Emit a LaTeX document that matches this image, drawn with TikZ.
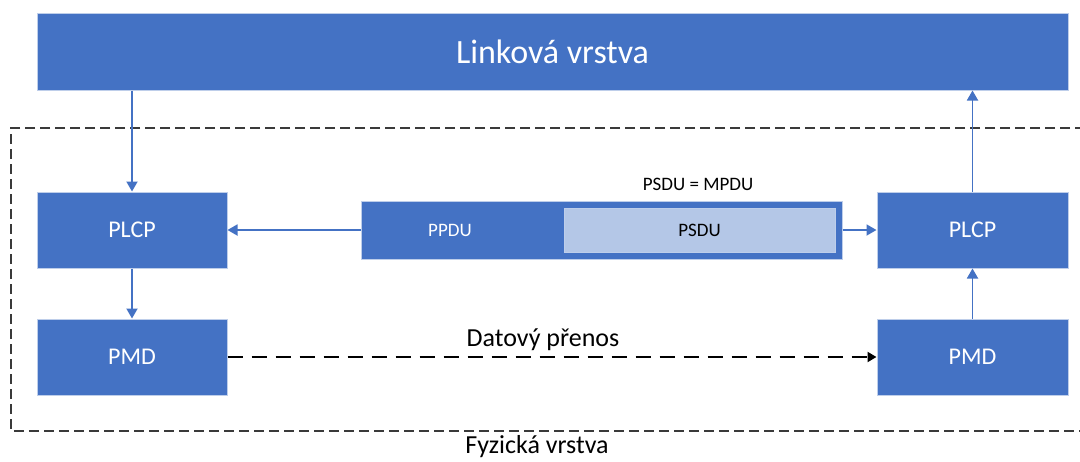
\documentclass[tikz,border=0pt]{standalone}
\usepackage{fontspec}
\setmainfont{Carlito}
\usetikzlibrary{arrows.meta,calc}
\definecolor{boxblue}{HTML}{4472C4}
\definecolor{lightblue}{HTML}{B4C7E7}
\definecolor{dashgray}{HTML}{3A3A3A}
\tikzset{
  bluebox/.style={draw=white!65!boxblue, line width=1pt, fill=boxblue, text=white, inner sep=0pt},
  innerbox/.style={draw=white!65!boxblue, line width=1pt, fill=lightblue, text=black, inner sep=0pt},
  arr/.style={draw=boxblue, line width=1.8pt, -{Triangle[width=11pt,length=10pt]}},
  datarr/.style={draw=black, line width=2pt, dash pattern=on 15pt off 9pt, -{Triangle[width=10pt,length=9pt]}},
  border/.style={draw=dashgray, line width=1.6pt, dash pattern=on 10pt off 5pt},
  lbl/.style={inner sep=0pt, anchor=base}
}
\begin{document}
\begin{tikzpicture}[x=1pt,y=-1pt]
\clip (0,0) rectangle (1080,461);
\fill[white] (0,0) rectangle (1080,461);
% dashed frame of the physical layer
\draw[border] (1100,128) -- (11,128) -- (11,431) -- (1100,431);
% boxes
\node[bluebox, minimum width=1031pt, minimum height=77pt, font=\fontsize{34}{40}\selectfont] (link) at (552.5,51.5) {Linková vrstva};
\node[bluebox, minimum width=190pt, minimum height=76pt, font=\fontsize{24}{28}\selectfont] (plcpL) at (132,230) {PLCP};
\node[bluebox, minimum width=190pt, minimum height=76pt, font=\fontsize{24}{28}\selectfont] (pmdL) at (132,357) {PMD};
\node[bluebox, minimum width=191pt, minimum height=76pt, font=\fontsize{24}{28}\selectfont] (plcpR) at (972.5,230) {PLCP};
\node[bluebox, minimum width=191pt, minimum height=76pt, font=\fontsize{24}{28}\selectfont] (pmdR) at (972.5,357) {PMD};
\node[bluebox, minimum width=481pt, minimum height=58pt] (ppdu) at (601.5,230) {};
\node[innerbox, minimum width=271pt, minimum height=44pt, font=\fontsize{19}{23}\selectfont] (psdu) at (699.5,230) {PSDU};
\node[lbl, text=white, font=\fontsize{19}{23}\selectfont] (ppdulbl) at (450,236.7) {PPDU};
\node[lbl, font=\fontsize{19}{23}\selectfont] (mpdu) at (698,190.7) {PSDU = MPDU};
% arrows
\draw[arr] (plcpL.north |- link.south) -- (plcpL.north);
\draw[arr] (plcpL.south) -- (pmdL.north);
\draw[arr] (ppdu.west) -- (plcpL.east);
\draw[arr] (ppdu.east) -- (plcpR.west);
\draw[arr] (pmdR.north) -- (plcpR.south);
\draw[arr] (plcpR.north) -- (plcpR.north |- link.south);
\draw[datarr] (pmdL.east) -- (pmdR.west);
\node[lbl, font=\fontsize{26}{30}\selectfont] (datlbl) at (543,346) {Datový přenos};
\node[lbl, font=\fontsize{26}{30}\selectfont] (fyzlbl) at (537,453) {Fyzická vrstva};
\end{tikzpicture}
\end{document}
